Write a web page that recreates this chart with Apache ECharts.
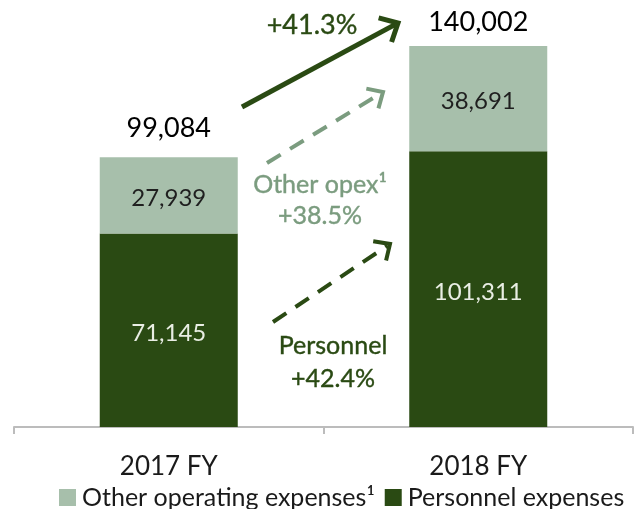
<!DOCTYPE html>
<html><head><meta charset="utf-8">
<script src="https://cdn.jsdelivr.net/npm/echarts@6/dist/echarts.min.js"></script>
<style>html,body{margin:0;padding:0;background:#fff}#c{width:634px;height:509px}</style>
</head><body><div id="c"></div>
<script>
const categories = ['2017 FY', '2018 FY'];
const personnel = [71145, 101311];
const otherOpex = [27939, 38691];
const totals = [99084, 140002];
const legendNames = ['Other operating expenses\u00B9', 'Personnel expenses'];

const DARK = '#2a4a13';
const LIGHT = '#a7bfab';
const MID = '#7b9c7f';
const FONT = 'Lato';
const fmt = v => v.toLocaleString('en-US');

const chart = echarts.init(document.getElementById('c'));

function arrow(x1, y1, x2, y2, color, width, dash, head) {
  const a = Math.atan2(y2 - y1, x2 - x1);
  const sp = 0.75;
  const p1 = [x2 - head * Math.cos(a - sp), y2 - head * Math.sin(a - sp)];
  const p2 = [x2 - head * Math.cos(a + sp), y2 - head * Math.sin(a + sp)];
  const ex = x2 - 3 * Math.cos(a), ey = y2 - 3 * Math.sin(a);
  return [
    {type: 'line', shape: {x1, y1, x2: ex, y2: ey},
     style: {stroke: color, lineWidth: width, lineDash: dash || null, lineCap: 'butt'}},
    {type: 'polyline', shape: {points: [p1, [x2, y2], p2]},
     style: {stroke: color, lineWidth: width, fill: null, lineJoin: 'miter', lineCap: 'butt'}}
  ];
}
function note(x, y, text, color, size) {
  return {type: 'text', x, y, style: {text, fill: color, stroke: color, lineWidth: 0.4,
    font: size + 'px Lato', textAlign: 'center', textVerticalAlign: 'middle'}};
}

chart.setOption({
  backgroundColor: '#fff',
  animation: false,
  textStyle: {fontFamily: FONT},
  grid: {left: 14, right: 1, top: 0, bottom: 82},
  legend: {
    data: legendNames, left: 59, top: 485, width: 600, itemWidth: 17, itemHeight: 17, itemGap: 10,
    icon: 'rect', padding: 0,
    textStyle: {fontSize: 25, color: '#1a1a1a', fontFamily: FONT, padding: [0, 0, 0, 1]}
  },
  xAxis: {
    type: 'category', data: categories,
    axisLine: {lineStyle: {color: '#bcbcbc', width: 2}},
    axisTick: {show: true, length: 7, lineStyle: {color: '#bcbcbc', width: 2}},
    axisLabel: {fontSize: 26, color: '#1a1a1a', margin: 27, fontFamily: FONT}
  },
  yAxis: {type: 'value', min: 0, max: 156900, show: false, splitLine: {show: false}},
  series: [
    {name: legendNames[1], type: 'bar', stack: 's', barWidth: 138, data: personnel,
     itemStyle: {color: DARK},
     label: {show: true, position: 'inside', offset: [0, 3], color: '#e9eee4', fontSize: 24, fontFamily: FONT, formatter: p => fmt(p.value)}},
    {name: legendNames[0], type: 'bar', stack: 's', barWidth: 138, data: otherOpex,
     itemStyle: {color: LIGHT},
     label: {show: true, position: 'inside', offset: [0, 3], color: '#1f1f1f', fontSize: 24, fontFamily: FONT, formatter: p => fmt(p.value)}},
    {name: 'total', type: 'bar', stack: 's', barWidth: 138,
     data: totals.map((t, i) => ({value: 0, label: {distance: i === 0 ? 16 : 10}})),
     itemStyle: {color: 'transparent'},
     label: {show: true, position: 'top', color: '#000', fontSize: 27, fontFamily: FONT,
             formatter: p => fmt(totals[p.dataIndex])}}
  ],
  graphic: [
    ...arrow(242, 107, 398, 23, DARK, 5, null, 20),
    ...arrow(267, 163, 383, 92, MID, 4, [16, 11], 17),
    ...arrow(273, 322, 390, 244, DARK, 4, [16, 11], 17),
    note(312, 25, '+41.3%', DARK, 27),
    note(320, 185, 'Other opex\u00B9', MID, 25),
    note(320, 216, '+38.5%', MID, 25),
    note(333, 346, 'Personnel', DARK, 25),
    note(333, 379, '+42.4%', DARK, 25)
  ]
});
</script></body></html>
